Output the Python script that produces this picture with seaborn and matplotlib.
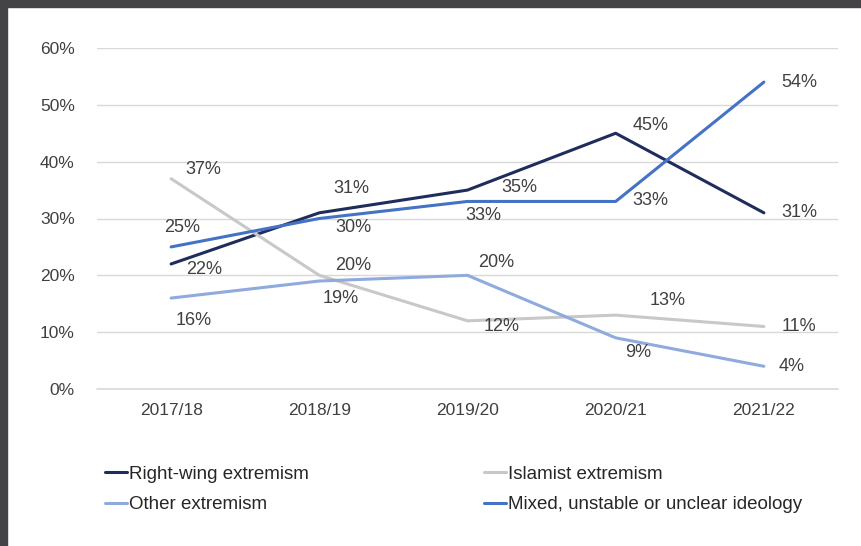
import matplotlib
matplotlib.use("Agg")
import matplotlib.pyplot as plt
import seaborn as sns
import pandas as pd
from matplotlib.patches import Rectangle

# data
years = ['2017/18', '2018/19', '2019/20', '2020/21', '2021/22']
right_wing = [22, 31, 35, 45, 31]
islamist = [37, 20, 12, 13, 11]
other = [16, 19, 20, 9, 4]
mixed = [25, 30, 33, 33, 54]
y_ticks = [0, 10, 20, 30, 40, 50, 60]

series_names = ['Right-wing extremism', 'Islamist extremism',
                'Other extremism', 'Mixed, unstable or unclear ideology']
series_values = [right_wing, islamist, other, mixed]
colors = ['#1F2D5C', '#C8C8C8', '#8FAADC', '#4472C4']

# label offsets in pixels (dx, dy; dy positive = down)
label_offsets = [
    [(33, 6), (32, -24), (52, -3), (35, -8), (35, 0)],
    [(32, -9), (34, -10), (34, 6), (52, -15), (35, 0)],
    [(23, 22), (21, 17), (29, -13), (22, 15), (28, 0)],
    [(11, -19), (34, 9), (16, 14), (35, -1), (35, 0)],
]

df = pd.DataFrame({
    'year': years * 4,
    'x': list(range(len(years))) * 4,
    'value': right_wing + islamist + other + mixed,
    'series': [s for s in series_names for _ in years],
})

sns.set_theme(style='white')
plt.rcParams['font.family'] = ['Liberation Sans', 'DejaVu Sans']

W, H = 861, 546
fig = plt.figure(figsize=(W / 100, H / 100), dpi=100)
ax = fig.add_axes([97 / W, 1 - 389 / H, (838 - 97) / W, (389 - 48) / H])

sns.lineplot(data=df, x='x', y='value', hue='series', hue_order=series_names,
             palette=colors, linewidth=2.2, ax=ax, legend=False, sort=False)

for vals, offs in zip(series_values, label_offsets):
    for i, (v, (dx, dy)) in enumerate(zip(vals, offs)):
        ax.annotate(f'{v}%', (i, v), xytext=(dx, -dy), textcoords='offset pixels',
                    ha='center', va='center', fontsize=13, color='#404040')

ax.set_xlim(-0.5, len(years) - 0.5)
ax.set_ylim(0, 60)
ax.set_yticks(y_ticks)
ax.set_yticklabels([f'{t}%' for t in y_ticks])
ax.set_xticks(range(len(years)))
ax.set_xticklabels(years)
ax.tick_params(axis='both', labelsize=12.5, colors='#404040', length=0)
ax.tick_params(axis='y', pad=16)
ax.tick_params(axis='x', pad=10)
ax.grid(axis='y', color='#D9D9D9', linewidth=1)
ax.axhline(0, color='#D9D9D9', linewidth=1.2, clip_on=False, zorder=0)
ax.set_axisbelow(True)
for s in ax.spines.values():
    s.set_visible(False)
ax.set_xlabel('')
ax.set_ylabel('')

# legend in two columns under the plot, filled row by row
handles = [plt.Line2D([], [], color=c, linewidth=2.2) for c in colors]
order = [0, 2, 1, 3]
fig.legend([handles[i] for i in order], [series_names[i] for i in order],
           loc='upper left', bbox_to_anchor=(88 / W, 1 - 449 / H),
           ncol=2, frameon=False, fontsize=13.5, handlelength=1.2, handletextpad=0.1,
           columnspacing=9.3, labelspacing=0.7, labelcolor='#262626')

# dark frame at the top and left edge
fig.patches.append(Rectangle((0, 1 - 7 / H), 1, 7 / H, transform=fig.transFigure,
                             color='#444446', zorder=10))
fig.patches.append(Rectangle((0, 0), 7 / W, 1, transform=fig.transFigure,
                             color='#444446', zorder=10))

fig.savefig('out.png', dpi=100, facecolor='white')
